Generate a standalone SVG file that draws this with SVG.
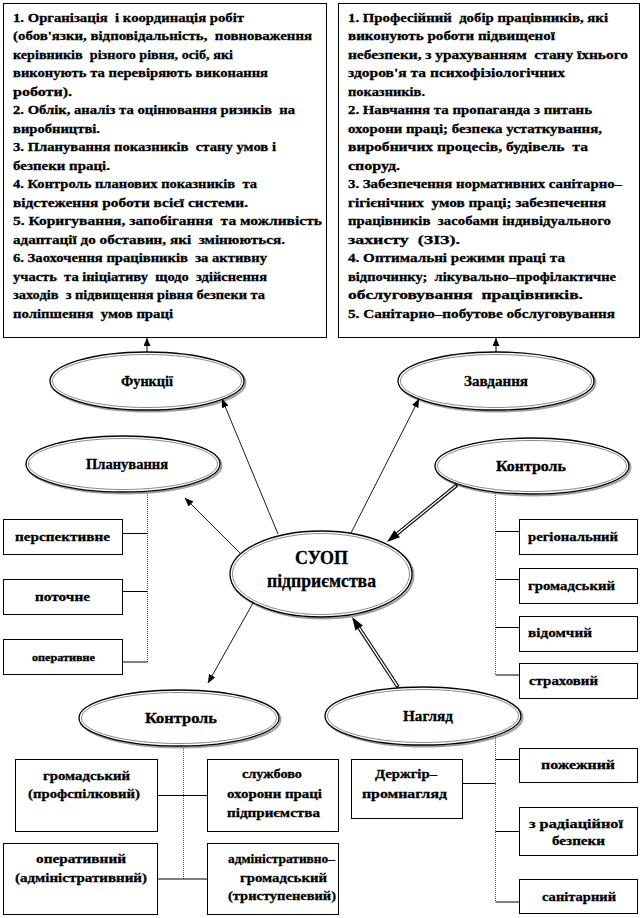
<svg xmlns="http://www.w3.org/2000/svg" width="642" height="918" viewBox="0 0 642 918">
<defs>
<marker id="ah" markerUnits="userSpaceOnUse" markerWidth="9" markerHeight="7" refX="8.5" refY="3.5" orient="auto">
<path d="M0,0 L9,3.5 L0,7 Z" fill="#000"/>
</marker>
<marker id="ahs" markerUnits="userSpaceOnUse" markerWidth="8" markerHeight="7" refX="8" refY="3.5" orient="auto">
<path d="M0,0 L8,3.5 L0,7 Z" fill="#000"/>
</marker>
</defs>
<style>
text { font-family: "Liberation Serif", "Times New Roman", serif; font-weight: bold; fill: #000; stroke: #000; stroke-width: 0.3px; white-space: pre; }
.t { font-size: 13.5px; }
.s { font-size: 13.5px; }
.c { font-size: 13.5px; text-anchor: middle; }
.lbl { font-size: 14.5px; text-anchor: middle; }
.box { fill: #fff; stroke: #000; stroke-width: 1; }
.eo { fill: #fff; stroke: #000; stroke-width: 1.3; }
.ei { fill: none; stroke: #8a8a8a; stroke-width: 1; }
.es { fill: none; stroke: #a0a0a0; stroke-width: 2; }
.dot { stroke: #555; stroke-width: 1; stroke-dasharray: 1 1; fill: none; }
.ln { stroke: #000; stroke-width: 1; fill: none; }
.arr { stroke: #000; stroke-width: 0.9; fill: none; marker-end: url(#ah); }
.arrs { stroke: #000; stroke-width: 1; fill: none; marker-end: url(#ahs); }
.dbo { stroke: #000; stroke-width: 3.6; fill: none; }
.dbi { stroke: #fff; stroke-width: 1.4; fill: none; }
</style>
<rect width="642" height="918" fill="#fff"/>

<g id="functions-box">
<rect class="box" x="3.5" y="3.5" width="323" height="334"/>
<text class="t" x="13" y="21.5" textLength="231" lengthAdjust="spacingAndGlyphs">1. Організація  і координація робіт</text>
<text class="t" x="13" y="40" textLength="299" lengthAdjust="spacingAndGlyphs">(обов'язки, відповідальність,  повноваження</text>
<text class="t" x="13" y="58.5" textLength="220" lengthAdjust="spacingAndGlyphs">керівників  різного рівня, осіб, які</text>
<text class="t" x="13" y="77" textLength="255" lengthAdjust="spacingAndGlyphs">виконують та перевіряють виконання</text>
<text class="t" x="13" y="95.5" textLength="59" lengthAdjust="spacingAndGlyphs">роботи).</text>
<text class="t" x="13" y="114" textLength="282" lengthAdjust="spacingAndGlyphs">2. Облік, аналіз та оцінювання ризиків  на</text>
<text class="t" x="13" y="132.5" textLength="87" lengthAdjust="spacingAndGlyphs">виробництві.</text>
<text class="t" x="13" y="151" textLength="263" lengthAdjust="spacingAndGlyphs">3. Планування показників  стану умов і</text>
<text class="t" x="13" y="169.5" textLength="97" lengthAdjust="spacingAndGlyphs">безпеки праці.</text>
<text class="t" x="13" y="188" textLength="244" lengthAdjust="spacingAndGlyphs">4. Контроль планових показників  та</text>
<text class="t" x="13" y="206.5" textLength="235" lengthAdjust="spacingAndGlyphs">відстеження роботи всієї системи.</text>
<text class="t" x="13" y="225" textLength="309" lengthAdjust="spacingAndGlyphs">5. Коригування, запобігання  та можливість</text>
<text class="t" x="13" y="243.5" textLength="272" lengthAdjust="spacingAndGlyphs">адаптації до обставин, які  змінюються.</text>
<text class="t" x="13" y="262" textLength="254" lengthAdjust="spacingAndGlyphs">6. Заохочення працівників  за активну</text>
<text class="t" x="13" y="280.5" textLength="254" lengthAdjust="spacingAndGlyphs">участь  та ініціативу  щодо  здійснення</text>
<text class="t" x="13" y="299" textLength="252" lengthAdjust="spacingAndGlyphs">заходів  з підвищення рівня безпеки та</text>
<text class="t" x="13" y="317.5" textLength="160" lengthAdjust="spacingAndGlyphs">поліпшення  умов праці</text>
</g>

<g id="tasks-box">
<rect class="box" x="338.5" y="3.5" width="301" height="334"/>
<text class="t" x="348" y="21.5" textLength="260" lengthAdjust="spacingAndGlyphs">1. Професійний  добір працівників, які</text>
<text class="t" x="348" y="40" textLength="207" lengthAdjust="spacingAndGlyphs">виконують роботи підвищеної</text>
<text class="t" x="348" y="58.5" textLength="280" lengthAdjust="spacingAndGlyphs">небезпеки, з урахуванням  стану їхнього</text>
<text class="t" x="348" y="77" textLength="217" lengthAdjust="spacingAndGlyphs">здоров'я та психофізіологічних</text>
<text class="t" x="348" y="95.5" textLength="77" lengthAdjust="spacingAndGlyphs">показників.</text>
<text class="t" x="348" y="114" textLength="244" lengthAdjust="spacingAndGlyphs">2. Навчання та пропаганда з питань</text>
<text class="t" x="348" y="132.5" textLength="254" lengthAdjust="spacingAndGlyphs">охорони праці; безпека устаткування,</text>
<text class="t" x="348" y="151" textLength="240" lengthAdjust="spacingAndGlyphs">виробничих процесів, будівель  та</text>
<text class="t" x="348" y="169.5" textLength="52" lengthAdjust="spacingAndGlyphs">споруд.</text>
<text class="t" x="348" y="188" textLength="274" lengthAdjust="spacingAndGlyphs">3. Забезпечення нормативних санітарно–</text>
<text class="t" x="348" y="206.5" textLength="258" lengthAdjust="spacingAndGlyphs">гігієнічних  умов праці; забезпечення</text>
<text class="t" x="348" y="225" textLength="263" lengthAdjust="spacingAndGlyphs">працівників  засобами індивідуального</text>
<text class="t" x="348" y="243.5" textLength="112" lengthAdjust="spacingAndGlyphs">захисту  (ЗІЗ).</text>
<text class="t" x="348" y="262" textLength="217" lengthAdjust="spacingAndGlyphs">4. Оптимальні режими праці та</text>
<text class="t" x="348" y="280.5" textLength="268" lengthAdjust="spacingAndGlyphs">відпочинку;  лікувально–профілактичне</text>
<text class="t" x="348" y="299" textLength="235" lengthAdjust="spacingAndGlyphs">обслуговування  працівників.</text>
<text class="t" x="348" y="317.5" textLength="267" lengthAdjust="spacingAndGlyphs">5. Санітарно–побутове обслуговування</text>
</g>

<g id="funktsii">
<ellipse class="es" cx="148.5" cy="382.5" rx="97" ry="29"/>
<ellipse class="eo" cx="147" cy="381" rx="97" ry="29"/>
<ellipse class="ei" cx="147" cy="381" rx="94.5" ry="26.5"/>
<text class="lbl" x="147" y="386" textLength="52" lengthAdjust="spacingAndGlyphs">Функції</text>
</g>

<g id="zavdannia">
<ellipse class="es" cx="497.5" cy="382.5" rx="98" ry="29"/>
<ellipse class="eo" cx="496" cy="381" rx="98" ry="29"/>
<ellipse class="ei" cx="496" cy="381" rx="95.5" ry="26.5"/>
<text class="lbl" x="496" y="386" textLength="64" lengthAdjust="spacingAndGlyphs">Завдання</text>
</g>

<g id="planuvannia">
<ellipse class="es" cx="124.5" cy="465.5" rx="97" ry="28"/>
<ellipse class="eo" cx="123" cy="464" rx="97" ry="28"/>
<ellipse class="ei" cx="123" cy="464" rx="94.5" ry="25.5"/>
<text class="lbl" x="127" y="469" textLength="82" lengthAdjust="spacingAndGlyphs">Планування</text>
</g>

<g id="kontrol-right">
<ellipse class="es" cx="533.5" cy="467.5" rx="97" ry="28"/>
<ellipse class="eo" cx="532" cy="466" rx="97" ry="28"/>
<ellipse class="ei" cx="532" cy="466" rx="94.5" ry="25.5"/>
<text class="lbl" x="531" y="471" textLength="70" lengthAdjust="spacingAndGlyphs">Контроль</text>
</g>

<g id="suop">
<ellipse class="es" cx="322.5" cy="575.5" rx="91" ry="43"/>
<ellipse class="eo" cx="321" cy="574" rx="91" ry="43"/>
<ellipse class="ei" cx="321" cy="574" rx="88.5" ry="40.5"/>
<text x="321.5" y="564" font-size="19" text-anchor="middle" textLength="53" lengthAdjust="spacingAndGlyphs">СУОП</text>
<text x="321.5" y="587" font-size="19" text-anchor="middle" textLength="109" lengthAdjust="spacingAndGlyphs">підприємства</text>
</g>

<g id="kontrol-bottom">
<ellipse class="es" cx="180.5" cy="719.5" rx="100" ry="28"/>
<ellipse class="eo" cx="179" cy="718" rx="100" ry="28"/>
<ellipse class="ei" cx="179" cy="718" rx="97.5" ry="25.5"/>
<text class="lbl" x="181" y="723" textLength="72" lengthAdjust="spacingAndGlyphs">Контроль</text>
</g>

<g id="nahliad">
<ellipse class="es" cx="424.5" cy="717.5" rx="98" ry="29"/>
<ellipse class="eo" cx="423" cy="716" rx="98" ry="29"/>
<ellipse class="ei" cx="423" cy="716" rx="95.5" ry="26.5"/>
<text class="lbl" x="428" y="721" textLength="50" lengthAdjust="spacingAndGlyphs">Нагляд</text>
</g>

<g id="perspektyvne">
<rect class="box" x="3.5" y="519.5" width="119" height="35"/>
<text class="s" x="62.5" y="541" text-anchor="middle" textLength="95" lengthAdjust="spacingAndGlyphs">перспективне</text>
</g>
<g id="potochne">
<rect class="box" x="3.5" y="579.5" width="119" height="35"/>
<text class="s" x="62.5" y="601" text-anchor="middle" textLength="55" lengthAdjust="spacingAndGlyphs">поточне</text>
</g>
<g id="operatyvne">
<rect class="box" x="3.5" y="639.5" width="119" height="35"/>
<text x="63.5" y="660.5" font-size="10.5" text-anchor="middle" textLength="63" lengthAdjust="spacingAndGlyphs">оперативне</text>
</g>

<g id="rehionalnyi">
<rect class="box" x="519.5" y="519.5" width="118" height="35"/>
<text class="s" x="528" y="541" textLength="90" lengthAdjust="spacingAndGlyphs">регіональний</text>
</g>
<g id="hromadskyi-right">
<rect class="box" x="519.5" y="568.5" width="118" height="35"/>
<text class="s" x="528" y="590" textLength="87" lengthAdjust="spacingAndGlyphs">громадський</text>
</g>
<g id="vidomchyi">
<rect class="box" x="519.5" y="616.5" width="118" height="35"/>
<text class="s" x="528" y="637" textLength="64" lengthAdjust="spacingAndGlyphs">відомчий</text>
</g>
<g id="strakhovyi">
<rect class="box" x="519.5" y="663.5" width="118" height="35"/>
<text class="s" x="529" y="685" textLength="69" lengthAdjust="spacingAndGlyphs">страховий</text>
</g>

<g id="hromadskyi-prof">
<rect class="box" x="15.5" y="759.5" width="142" height="72"/>
<text class="c" x="86.5" y="780" textLength="87" lengthAdjust="spacingAndGlyphs">громадський</text>
<text class="c" x="84" y="798" textLength="112" lengthAdjust="spacingAndGlyphs">(профспілковий)</text>
</g>
<g id="sluzhba">
<rect class="box" x="207.5" y="759.5" width="131" height="72"/>
<text class="c" x="272" y="778" textLength="60" lengthAdjust="spacingAndGlyphs">службово</text>
<text class="c" x="274.5" y="797.5" textLength="95" lengthAdjust="spacingAndGlyphs">охорони праці</text>
<text class="c" x="273.5" y="816.5" textLength="93" lengthAdjust="spacingAndGlyphs">підприємства</text>
</g>
<g id="operatyvnyi">
<rect class="box" x="3.5" y="843.5" width="154" height="71"/>
<text class="c" x="81" y="863" textLength="90" lengthAdjust="spacingAndGlyphs">оперативний</text>
<text class="c" x="81" y="882" textLength="132" lengthAdjust="spacingAndGlyphs">(адміністративний)</text>
</g>
<g id="admin-hromadskyi">
<rect class="box" x="207.5" y="843.5" width="131" height="71"/>
<text class="c" x="281.5" y="863" textLength="107" lengthAdjust="spacingAndGlyphs">адміністративно–</text>
<text class="c" x="283.5" y="881.5" textLength="87" lengthAdjust="spacingAndGlyphs">громадський</text>
<text class="c" x="282" y="900" textLength="108" lengthAdjust="spacingAndGlyphs">(триступеневий)</text>
</g>

<g id="derzhhirpromnahliad">
<rect class="box" x="351.5" y="759.5" width="111" height="59"/>
<text class="c" x="406" y="778" textLength="62" lengthAdjust="spacingAndGlyphs">Держгір–</text>
<text class="c" x="404.5" y="797.5" textLength="85" lengthAdjust="spacingAndGlyphs">промнагляд</text>
</g>
<g id="pozhezhnyi">
<rect class="box" x="519.5" y="748.5" width="118" height="34"/>
<text class="c" x="578" y="769" textLength="74" lengthAdjust="spacingAndGlyphs">пожежний</text>
</g>
<g id="radiatsiina">
<rect class="box" x="519.5" y="807.5" width="118" height="48"/>
<text class="c" x="576" y="827.5" textLength="94" lengthAdjust="spacingAndGlyphs">з радіаційної</text>
<text class="c" x="578.5" y="845" textLength="53" lengthAdjust="spacingAndGlyphs">безпеки</text>
</g>
<g id="sanitarnyi">
<rect class="box" x="519.5" y="879.5" width="118" height="34"/>
<text class="c" x="579" y="901" textLength="74" lengthAdjust="spacingAndGlyphs">санітарний</text>
</g>

<g id="connectors">
<line class="arrs" x1="147" y1="352" x2="147" y2="338"/>
<line class="arrs" x1="496" y1="352" x2="496" y2="338"/>
<line class="arr" x1="278" y1="534" x2="222" y2="399"/>
<line class="arr" x1="351" y1="533" x2="419" y2="399"/>
<line class="arr" x1="240" y1="553" x2="185" y2="498"/>
<line class="arr" x1="253" y1="603" x2="208" y2="683"/>
<line class="dbo" x1="457" y1="485" x2="397.1" y2="533.8"/>
<line class="dbi" x1="456" y1="485.8" x2="397.1" y2="533.8"/>
<polygon points="387,542 399.9,537.3 394.3,530.3" fill="#000"/>
<line class="dbo" x1="398" y1="687" x2="359.1" y2="627.9"/>
<line class="dbi" x1="397.3" y1="686" x2="359.1" y2="627.9"/>
<polygon points="352,617 362.9,625.4 355.4,630.4" fill="#000"/>
<line class="dot" x1="147.5" y1="491" x2="147.5" y2="662"/>
<line class="ln" x1="123" y1="533.5" x2="147.5" y2="533.5"/>
<line class="ln" x1="123" y1="591.5" x2="147.5" y2="591.5"/>
<line class="ln" x1="123" y1="662" x2="147.5" y2="662"/>
<line class="dot" x1="495.5" y1="493" x2="495.5" y2="675"/>
<line class="ln" x1="495.5" y1="531.5" x2="519" y2="531.5"/>
<line class="ln" x1="495.5" y1="579.5" x2="519" y2="579.5"/>
<line class="ln" x1="495.5" y1="627.5" x2="519" y2="627.5"/>
<line class="ln" x1="495.5" y1="675" x2="519" y2="675"/>
<line class="dot" x1="183.5" y1="746" x2="183.5" y2="879"/>
<line class="ln" x1="158" y1="795.5" x2="207" y2="795.5"/>
<line class="ln" x1="158" y1="879" x2="207" y2="879"/>
<line class="dot" x1="495.5" y1="736" x2="495.5" y2="902"/>
<line class="ln" x1="495.5" y1="759.5" x2="519" y2="759.5"/>
<line class="ln" x1="495.5" y1="831.5" x2="519" y2="831.5"/>
<line class="ln" x1="495.5" y1="902" x2="519" y2="902"/>
<line class="ln" x1="463" y1="783.5" x2="495.5" y2="783.5"/>
</g>
</svg>
